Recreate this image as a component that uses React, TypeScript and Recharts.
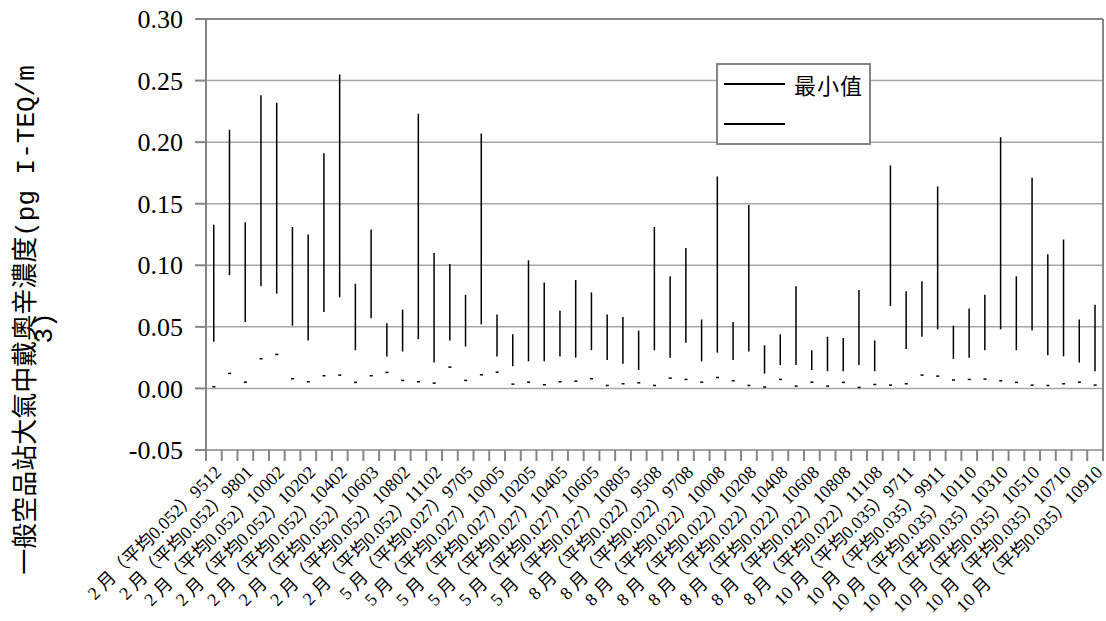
import {
  ComposedChart,
  Bar,
  Line,
  XAxis,
  YAxis,
  CartesianGrid,
  Legend,
  ReferenceLine,
} from "recharts";

// sample groups (labels shown on every second category)
const categories = [
  "2 月（平均0.052）9512", "2 月（平均0.052）9702", "2 月（平均0.052）9801", "2 月（平均0.052）9902",
  "2 月（平均0.052）10002", "2 月（平均0.052）10102", "2 月（平均0.052）10202", "2 月（平均0.052）10302",
  "2 月（平均0.052）10402", "2 月（平均0.052）10502", "2 月（平均0.052）10603", "2 月（平均0.052）10702",
  "2 月（平均0.052）10802", "2 月（平均0.052）10902", "2 月（平均0.052）11102", "2 月（平均0.052）11202",
  "5 月（平均0.027）9705", "5 月（平均0.027）9905", "5 月（平均0.027）10005", "5 月（平均0.027）10105",
  "5 月（平均0.027）10205", "5 月（平均0.027）10305", "5 月（平均0.027）10405", "5 月（平均0.027）10505",
  "5 月（平均0.027）10605", "5 月（平均0.027）10705", "5 月（平均0.027）10805", "5 月（平均0.027）10905",
  "8 月（平均0.022）9508", "8 月（平均0.022）9608", "8 月（平均0.022）9708", "8 月（平均0.022）9908",
  "8 月（平均0.022）10008", "8 月（平均0.022）10108", "8 月（平均0.022）10208", "8 月（平均0.022）10308",
  "8 月（平均0.022）10408", "8 月（平均0.022）10508", "8 月（平均0.022）10608", "8 月（平均0.022）10708",
  "8 月（平均0.022）10808", "8 月（平均0.022）10908", "8 月（平均0.022）11108", "8 月（平均0.022）11208",
  "10 月（平均0.035）9711", "10 月（平均0.035）9811", "10 月（平均0.035）9911", "10 月（平均0.035）10011",
  "10 月（平均0.035）10110", "10 月（平均0.035）10210", "10 月（平均0.035）10310", "10 月（平均0.035）10410",
  "10 月（平均0.035）10510", "10 月（平均0.035）10610", "10 月（平均0.035）10710", "10 月（平均0.035）10810",
  "10 月（平均0.035）10910",
];

const highs = [
  0.133, 0.210, 0.135, 0.238, 0.232, 0.131, 0.125, 0.191, 0.255, 0.085,
  0.129, 0.053, 0.064, 0.223, 0.110, 0.101, 0.076, 0.207, 0.060, 0.044,
  0.104, 0.086, 0.063, 0.088, 0.078, 0.060, 0.058, 0.047, 0.131, 0.091,
  0.114, 0.056, 0.172, 0.054, 0.149, 0.035, 0.044, 0.083, 0.031, 0.042,
  0.041, 0.080, 0.039, 0.181, 0.079, 0.087, 0.164, 0.051, 0.065, 0.076,
  0.204, 0.091, 0.171, 0.109, 0.121, 0.056, 0.068,
];

const lows = [
  0.038, 0.092, 0.054, 0.083, 0.077, 0.051, 0.039, 0.062, 0.074, 0.031,
  0.057, 0.026, 0.030, 0.040, 0.021, 0.039, 0.034, 0.052, 0.026, 0.018,
  0.022, 0.022, 0.026, 0.025, 0.031, 0.023, 0.020, 0.015, 0.031, 0.025,
  0.037, 0.022, 0.029, 0.023, 0.030, 0.012, 0.019, 0.019, 0.015, 0.014,
  0.014, 0.019, 0.014, 0.067, 0.032, 0.042, 0.048, 0.024, 0.025, 0.031,
  0.048, 0.031, 0.047, 0.027, 0.026, 0.021, 0.014,
];

const minimums = [
  0.0014, 0.0122, 0.0051, 0.0241, 0.0276, 0.0079, 0.0054, 0.0103, 0.0108, 0.0049,
  0.0103, 0.0130, 0.0065, 0.0054, 0.0043, 0.0173, 0.0065, 0.0111, 0.0132, 0.0035,
  0.0051, 0.0030, 0.0054, 0.0059, 0.0079, 0.0024, 0.0038, 0.0046, 0.0024, 0.0084,
  0.0073, 0.0051, 0.0089, 0.0062, 0.0024, 0.0011, 0.0073, 0.0019, 0.0051, 0.0019,
  0.0049, 0.0008, 0.0032, 0.0027, 0.0038, 0.0108, 0.0100, 0.0068, 0.0073, 0.0076,
  0.0062, 0.0049, 0.0027, 0.0024, 0.0038, 0.0051, 0.0027,
];

const yTicks = [-0.05, 0, 0.05, 0.1, 0.15, 0.2, 0.25, 0.3];
const legendLabels = ["最小值", ""];
const yLabelLines = ["一般空品站大氣中戴奧辛濃度(pg I-TEQ/m", "3)"];

const data = categories.map((name, i) => ({
  name,
  range: [lows[i], highs[i]],
  min: minimums[i],
}));

const W = 1106;
const H = 621;
const Y_AXIS_W = 206;
const RIGHT_W = 3;
const X_AXIS_H = 171;
const BAND = (W - Y_AXIS_W - RIGHT_W) / categories.length;

const AXIS = "#858585";
const GRID = "#a6a6a6";
// CJK font last, otherwise its latin glyphs win over the serif ones
const SERIF = "'Liberation Serif', 'Times New Roman', 'DejaVu Serif', 'Noto Sans CJK TC', serif";
const MONO = "'Liberation Mono', 'DejaVu Sans Mono', 'Noto Sans CJK TC', monospace";

function XTick(props: any) {
  const { x, y, payload, index } = props;
  const half = BAND / 2;
  const tx = x + 4;
  const ty = y + 19;
  return (
    <g>
      <line x1={x - half} y1={y} x2={x - half} y2={y + 11} stroke={AXIS} strokeWidth={2} />
      {index === categories.length - 1 && (
        <line x1={x + half} y1={y} x2={x + half} y2={y + 11} stroke={AXIS} strokeWidth={2} />
      )}
      {index % 2 === 0 && (
        <text
          x={tx}
          y={ty}
          dy="0.35em"
          textAnchor="end"
          transform={`rotate(-45, ${tx}, ${ty})`}
          style={{ fontFamily: SERIF, fontSize: 18 }}
          fill="#000"
        >
          {payload.value}
        </text>
      )}
    </g>
  );
}

function YTick(props: any) {
  const { x, y, payload } = props;
  return (
    <text
      x={x}
      y={y}
      dy="0.35em"
      textAnchor="end"
      style={{ fontFamily: SERIF, fontSize: 26 }}
      fill="#000"
    >
      {payload.value.toFixed(2)}
    </text>
  );
}

function YLabel() {
  const cy = 320;
  return (
    <g style={{ fontFamily: MONO, fontSize: 26 }} fill="#000">
      <text x={25} y={cy} dy="0.35em" textAnchor="middle" transform={`rotate(-90, 25, ${cy})`}>
        {yLabelLines[0]}
      </text>
      <text x={43} y={cy + 8} dy="0.35em" textAnchor="middle" transform={`rotate(-90, 43, ${cy + 8})`}>
        {yLabelLines[1]}
      </text>
    </g>
  );
}

function LegendBox() {
  return (
    <div
      style={{
        width: 151,
        height: 78,
        border: `2px solid ${AXIS}`,
        background: "#fff",
        fontFamily: SERIF,
        fontSize: 22,
        position: "relative",
      }}
    >
      {legendLabels.map((label, i) => (
        <div
          key={i}
          style={{
            position: "absolute",
            left: 6,
            top: i === 0 ? 4 : 44,
            height: 30,
            display: "flex",
            alignItems: "center",
          }}
        >
          <span style={{ display: "inline-block", width: 61, height: 1.5, background: "#000" }} />
          <span style={{ marginLeft: 9, letterSpacing: 1 }}>{label}</span>
        </div>
      ))}
    </div>
  );
}

export default function App() {
  return (
    <div style={{ position: "absolute", left: 0, top: 0, background: "#fff" }}>
      <ComposedChart
        width={W}
        height={H}
        data={data}
        margin={{ top: 19, right: 0, left: 0, bottom: 0 }}
      >
        <CartesianGrid vertical={false} stroke={GRID} strokeWidth={1.5} />
        <XAxis
          dataKey="name"
          interval={0}
          height={X_AXIS_H}
          tick={<XTick />}
          tickLine={false}
          tickSize={0}
          tickMargin={0}
          axisLine={{ stroke: GRID, strokeWidth: 2 }}
        />
        <YAxis
          width={Y_AXIS_W}
          domain={[-0.05, 0.3]}
          ticks={yTicks}
          allowDataOverflow
          tick={<YTick />}
          tickSize={11}
          tickMargin={12}
          tickLine={{ stroke: AXIS, strokeWidth: 2 }}
          axisLine={{ stroke: AXIS, strokeWidth: 2 }}
          label={<YLabel />}
        />
        <YAxis
          yAxisId="r"
          orientation="right"
          width={RIGHT_W}
          domain={[-0.05, 0.3]}
          ticks={yTicks}
          tick={false}
          tickLine={false}
          axisLine={{ stroke: AXIS, strokeWidth: 2 }}
        />
        <ReferenceLine y={0.3} stroke={AXIS} strokeWidth={2} />
        <Legend
          layout="vertical"
          align="center"
          verticalAlign="middle"
          wrapperStyle={{ left: 716, top: 63, width: 155 }}
          content={<LegendBox />}
        />
        <Bar dataKey="range" barSize={1.5} fill="#000" isAnimationActive={false} legendType="none" />
        <Line
          dataKey="min"
          stroke="none"
          isAnimationActive={false}
          legendType="none"
          activeDot={false}
          dot={(p: any) => (
            <rect key={p.index} x={p.cx - 1.5} y={p.cy - 0.75} width={3} height={1.5} fill="#000" />
          )}
        />
      </ComposedChart>
    </div>
  );
}
